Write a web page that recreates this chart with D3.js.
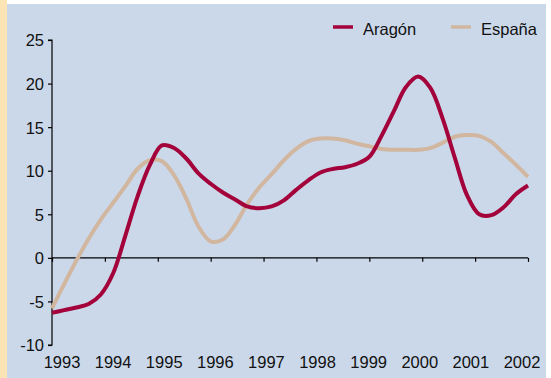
<!DOCTYPE html>
<html>
<head>
<meta charset="utf-8">
<script src="https://cdn.jsdelivr.net/npm/d3@7"></script>
<style>
  html, body { margin: 0; padding: 0; background: #ffffff; }
  svg { display: block; }
  text { font-family: "Liberation Sans", Arial, sans-serif; fill: #111; }
</style>
</head>
<body>
<svg id="chart" width="551" height="378"></svg>
<script>
// Quarterly growth rates, 1993–2002 (40 quarters)
const years = ["1993","1994","1995","1996","1997","1998","1999","2000","2001","2002"];
const yTicks = [-10, -5, 0, 5, 10, 15, 20, 25];
const seriesNames = ["Aragón", "España"];

const aragon = [
  -6.3, -6.0, -5.7, -5.3, -4.2, -1.8, 2.5, 7.0, 10.6, 12.9,
  12.6, 11.4, 9.7, 8.5, 7.5, 6.7, 5.9, 5.7, 5.9, 6.6,
  7.8, 8.9, 9.8, 10.2, 10.4, 10.8, 11.6, 14.0, 16.8, 19.6,
  20.8, 19.5, 16.0, 11.5, 7.2, 5.0, 4.9, 5.8, 7.3, 8.3
];
const espana = [
  -5.8, -3.0, -0.3, 2.2, 4.4, 6.3, 8.2, 10.2, 11.2, 11.1,
  9.5, 6.8, 3.6, 1.9, 2.1, 3.8, 6.2, 8.1, 9.6, 11.2,
  12.5, 13.4, 13.7, 13.7, 13.5, 13.1, 12.8, 12.5, 12.4, 12.4,
  12.4, 12.6, 13.2, 13.9, 14.1, 14.0, 13.3, 12.0, 10.7, 9.3
];

const colors = { "Aragón": "#a3023a", "España": "#d1b6a0" };

const svg = d3.select("#chart");

// Panel background with the side strip
svg.append("rect").attr("x", 0).attr("y", 0).attr("width", 7).attr("height", 378).attr("fill", "#fde4b5");
svg.append("rect").attr("x", 7).attr("y", 4).attr("width", 539).attr("height", 374).attr("fill", "#cbd8ea");

const y = d3.scaleLinear().domain([-10, 25]).range([345, 40]);
const xq = d3.scaleLinear().domain([0, aragon.length - 1]).range([52, 528]);
const xTick = d3.scaleLinear().domain([0, years.length - 1]).range([52, 528]);
const xLabel = d3.scalePoint().domain(years).range([62, 522]);

// Y axis
const yAxis = d3.axisLeft(y).tickValues(yTicks).tickSize(4).tickPadding(4).tickFormat(d => String(d));
const gy = svg.append("g").attr("transform", "translate(52,0)").call(yAxis);
gy.select(".domain").attr("stroke", "#000").attr("stroke-width", 1.2).attr("d", `M-4,${y(25)}H0V${y(-10)}H-4`);
gy.selectAll(".tick line").attr("stroke", "#000").attr("stroke-width", 1.2);
gy.selectAll(".tick text").attr("font-size", "16.5px").attr("font-family", "Liberation Sans, Arial, sans-serif").attr("fill", "#111").attr("dy", "0.36em");

// X axis along the zero line
const xAxis = d3.axisBottom(xTick).tickValues(d3.range(years.length)).tickSize(4).tickFormat("");
const gx = svg.append("g").attr("transform", `translate(0,${y(0)})`).call(xAxis);
gx.select(".domain").attr("stroke", "#000").attr("stroke-width", 1.2).attr("d", `M52,0H528`);
gx.selectAll(".tick line").attr("stroke", "#000").attr("stroke-width", 1.2);

// Year labels along the bottom
svg.append("g").selectAll("text").data(years).join("text")
  .attr("x", d => xLabel(d))
  .attr("y", 368)
  .attr("text-anchor", "middle")
  .attr("font-size", "16.5px")
  .text(d => d);

// Lines
const line = d3.line().x((d, i) => xq(i)).y(d => y(d)).curve(d3.curveCatmullRom.alpha(0.5));
const series = [
  { name: "España", values: espana },
  { name: "Aragón", values: aragon }
];
svg.append("g").selectAll("path").data(series).join("path")
  .attr("d", d => line(d.values))
  .attr("fill", "none")
  .attr("stroke", d => colors[d.name])
  .attr("stroke-width", 4)
  .attr("stroke-linejoin", "round")
  .attr("stroke-linecap", "butt");

// Legend
const legendX = [333, 451];
const lg = svg.append("g").selectAll("g").data(seriesNames).join("g")
  .attr("transform", (d, i) => `translate(${legendX[i]},27)`);
lg.append("line").attr("x1", 0).attr("x2", 20).attr("y1", 0).attr("y2", 0)
  .attr("stroke", d => colors[d]).attr("stroke-width", 3.5);
lg.append("text").attr("x", 30).attr("y", 7.5).attr("font-size", "16.5px").text(d => d);
</script>
</body>
</html>
